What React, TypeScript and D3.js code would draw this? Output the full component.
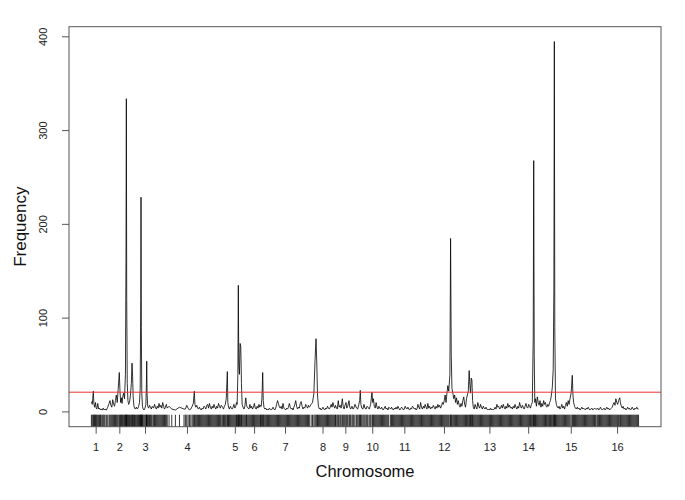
import React from 'react';
import * as d3 from 'd3';

// chromosome names and sizes (Mb), in genome order
const chromLabels = ['1', '2', '3', '4', '5', '6', '7', '8', '9', '10', '11', '12', '13', '14', '15', '16'];
const chromLengthsMb = [0.230, 0.813, 0.317, 1.532, 0.577, 0.270, 1.091, 0.563, 0.440, 0.746, 0.667, 1.078, 0.924, 0.784, 1.091, 0.948];

const yTicks = [0, 100, 200, 300, 400];
const threshold = 21;

// [cumulative position (Mb), frequency] at each marker
const markers: [number, number][] = [
    // chr 1
    [0.01, 11], [0.03, 8], [0.053, 22], [0.065, 9], [0.08, 5], [0.10, 10], [0.115, 4], [0.13, 3], [0.15, 9], [0.17, 3], [0.19, 4], [0.21, 2], [0.225, 3],
    // chr 2
    [0.25, 2], [0.27, 4], [0.29, 2], [0.31, 3], [0.34, 2], [0.37, 5], [0.40, 9], [0.42, 12], [0.44, 7], [0.46, 5], [0.48, 13], [0.50, 8], [0.52, 6],
    [0.54, 12], [0.56, 18], [0.58, 10], [0.60, 24], [0.625, 42], [0.64, 22], [0.655, 10], [0.67, 15], [0.685, 9], [0.70, 16], [0.72, 20], [0.74, 14],
    [0.76, 40], [0.772, 160], [0.780, 334], [0.788, 120], [0.80, 30], [0.815, 12], [0.83, 8], [0.85, 10], [0.87, 18], [0.89, 30], [0.905, 52],
    [0.918, 38], [0.93, 16], [0.945, 7], [0.96, 4], [0.98, 3], [1.00, 5], [1.02, 3], [1.035, 4],
    // chr 3
    [1.05, 6], [1.07, 10], [1.085, 24], [1.097, 120], [1.103, 229], [1.11, 90], [1.12, 20], [1.135, 6], [1.15, 3], [1.17, 2], [1.19, 4], [1.21, 8],
    [1.222, 30], [1.229, 54], [1.236, 20], [1.25, 6], [1.27, 4], [1.29, 7], [1.31, 5], [1.33, 3], [1.35, 6],
    // chr 4
    [1.38, 4], [1.40, 8], [1.42, 5], [1.44, 3], [1.46, 6], [1.48, 4], [1.50, 9], [1.52, 5], [1.54, 7], [1.56, 4], [1.58, 10], [1.60, 6], [1.62, 3],
    [1.64, 5], [1.66, 8], [1.68, 4], [1.72, 6], [1.78, 3], [1.86, 2], [1.95, 5], [2.05, 3], [2.08, 3], [2.11, 7], [2.14, 4], [2.17, 2], [2.20, 3],
    [2.23, 6], [2.255, 9], [2.277, 22], [2.29, 8], [2.31, 5], [2.33, 7], [2.35, 4], [2.37, 3], [2.39, 5], [2.41, 3], [2.43, 2], [2.45, 4], [2.47, 3],
    [2.49, 6], [2.51, 5], [2.53, 3], [2.55, 7], [2.57, 8], [2.59, 4], [2.61, 9], [2.63, 5], [2.65, 3], [2.67, 6], [2.69, 4], [2.71, 8], [2.73, 5],
    [2.75, 3], [2.77, 6], [2.79, 4], [2.81, 9], [2.83, 6], [2.85, 4], [2.87, 7],
    // chr 5
    [2.90, 5], [2.92, 3], [2.94, 6], [2.96, 8], [2.98, 14], [3.004, 43], [3.015, 10], [3.03, 5], [3.05, 3], [3.07, 6], [3.09, 4], [3.11, 3], [3.13, 5],
    [3.15, 8], [3.17, 4], [3.19, 6], [3.205, 10], [3.22, 8], [3.236, 40], [3.246, 135], [3.256, 50], [3.27, 40], [3.285, 73], [3.30, 70], [3.315, 30],
    [3.33, 8], [3.35, 5], [3.37, 3], [3.39, 6], [3.41, 15], [3.425, 8], [3.44, 5], [3.46, 4],
    // chr 6
    [3.48, 3], [3.50, 8], [3.52, 4], [3.54, 6], [3.56, 3], [3.58, 5], [3.60, 9], [3.62, 4], [3.64, 3], [3.66, 6], [3.68, 4], [3.70, 8], [3.72, 5], [3.735, 7],
    // chr 7
    [3.75, 6], [3.765, 14], [3.783, 42], [3.795, 12], [3.81, 5], [3.83, 3], [3.85, 4], [3.87, 2], [3.89, 3], [3.91, 2], [3.93, 4], [3.95, 3], [3.97, 2],
    [3.99, 3], [4.01, 5], [4.03, 3], [4.05, 2], [4.07, 4], [4.09, 8], [4.11, 12], [4.13, 9], [4.15, 5], [4.17, 4], [4.19, 6], [4.21, 3], [4.23, 9],
    [4.25, 4], [4.27, 3], [4.29, 2], [4.31, 4], [4.33, 3], [4.35, 5], [4.37, 9], [4.39, 5], [4.41, 3], [4.43, 4], [4.45, 2], [4.47, 5], [4.49, 8],
    [4.51, 12], [4.53, 6], [4.55, 3], [4.57, 5], [4.59, 4], [4.61, 9], [4.63, 11], [4.65, 6], [4.67, 3], [4.69, 5], [4.71, 4], [4.73, 8], [4.75, 6],
    [4.77, 4], [4.79, 7], [4.81, 5],
    // chr 8
    [4.85, 8], [4.88, 10], [4.91, 20], [4.935, 55], [4.957, 78], [4.975, 50], [4.99, 18], [5.01, 6], [5.03, 3], [5.05, 4], [5.07, 2], [5.09, 3],
    [5.11, 5], [5.13, 3], [5.15, 2], [5.17, 4], [5.19, 3], [5.21, 6], [5.23, 4], [5.25, 3], [5.27, 5], [5.29, 8], [5.31, 5], [5.33, 10], [5.35, 6],
    [5.37, 4], [5.385, 7],
    // chr 9
    [5.40, 5], [5.425, 3], [5.447, 12], [5.465, 5], [5.49, 7], [5.51, 4], [5.536, 14], [5.555, 6], [5.575, 3], [5.595, 7], [5.617, 10], [5.635, 4],
    [5.655, 6], [5.683, 12], [5.70, 5], [5.72, 3], [5.749, 6], [5.77, 3], [5.79, 4], [5.815, 8],
    // chr 10
    [5.85, 4], [5.875, 3], [5.90, 8], [5.918, 12], [5.932, 23], [5.945, 8], [5.965, 4], [5.99, 3], [6.013, 8], [6.035, 4], [6.06, 3], [6.08, 6],
    [6.10, 5], [6.13, 3], [6.16, 8], [6.189, 21], [6.205, 10], [6.22, 14], [6.24, 6], [6.26, 4], [6.28, 10], [6.30, 5], [6.32, 3], [6.34, 6],
    [6.36, 4], [6.38, 3], [6.40, 5], [6.42, 3], [6.44, 2], [6.46, 4], [6.48, 6], [6.50, 3], [6.52, 4], [6.54, 2], [6.56, 5],
    // chr 11
    [6.60, 3], [6.62, 5], [6.64, 3], [6.66, 2], [6.68, 4], [6.70, 3], [6.72, 5], [6.74, 3], [6.76, 6], [6.78, 4], [6.80, 2], [6.82, 3], [6.84, 5],
    [6.86, 4], [6.88, 2], [6.90, 3], [6.92, 6], [6.94, 4], [6.96, 3], [6.98, 5], [7.00, 3], [7.02, 2], [7.04, 4], [7.06, 3], [7.08, 6], [7.10, 5],
    [7.12, 3], [7.14, 4], [7.16, 2], [7.18, 3], [7.20, 8], [7.22, 5], [7.24, 3],
    // chr 12
    [7.26, 10], [7.28, 5], [7.30, 3], [7.32, 6], [7.34, 4], [7.36, 8], [7.38, 5], [7.40, 3], [7.42, 9], [7.44, 4], [7.46, 6], [7.48, 3], [7.50, 5],
    [7.52, 4], [7.54, 7], [7.56, 5], [7.58, 3], [7.60, 6], [7.62, 4], [7.64, 8], [7.66, 5], [7.68, 7], [7.70, 4], [7.72, 6], [7.74, 10], [7.76, 8],
    [7.78, 12], [7.80, 18], [7.82, 10], [7.84, 20], [7.86, 28], [7.88, 22], [7.905, 40], [7.92, 185], [7.935, 60], [7.95, 25], [7.97, 20], [7.99, 14],
    [8.01, 18], [8.03, 10], [8.05, 15], [8.07, 8], [8.09, 12], [8.11, 7], [8.13, 5], [8.15, 9], [8.17, 6], [8.19, 12], [8.21, 16], [8.23, 8],
    [8.25, 5], [8.27, 14], [8.29, 18], [8.31, 22],
    // chr 13
    [8.33, 44], [8.345, 28], [8.36, 20], [8.375, 36], [8.39, 34], [8.405, 12], [8.42, 5], [8.44, 3], [8.46, 8], [8.48, 5], [8.50, 3], [8.52, 10],
    [8.54, 6], [8.56, 4], [8.58, 8], [8.60, 5], [8.62, 3], [8.64, 6], [8.66, 4], [8.68, 3], [8.70, 5], [8.72, 3], [8.74, 2], [8.76, 3], [8.78, 2],
    [8.80, 4], [8.82, 2], [8.84, 3], [8.86, 2], [8.88, 3], [8.90, 5], [8.92, 3], [8.94, 8], [8.96, 5], [8.98, 6], [9.00, 3], [9.02, 4], [9.04, 7],
    [9.06, 4], [9.08, 8], [9.10, 5], [9.12, 3], [9.14, 6], [9.16, 4], [9.18, 9], [9.20, 5], [9.22, 7], [9.24, 4],
    // chr 14
    [9.26, 5], [9.28, 3], [9.30, 6], [9.32, 4], [9.34, 8], [9.36, 5], [9.38, 3], [9.40, 6], [9.42, 4], [9.44, 10], [9.46, 6], [9.48, 4], [9.50, 7],
    [9.52, 5], [9.54, 3], [9.56, 6], [9.58, 9], [9.60, 5], [9.62, 4], [9.64, 8], [9.66, 6], [9.68, 4], [9.70, 8], [9.72, 10], [9.74, 80],
    [9.751, 268], [9.762, 60], [9.775, 10], [9.79, 14], [9.81, 6], [9.83, 16], [9.85, 10], [9.87, 7], [9.89, 12], [9.91, 5], [9.93, 9], [9.95, 6],
    [9.97, 12], [9.99, 8], [10.01, 10], [10.025, 6],
    // chr 15
    [10.04, 5], [10.06, 8], [10.08, 6], [10.10, 10], [10.12, 12], [10.14, 18], [10.16, 26], [10.18, 45], [10.195, 130], [10.205, 395], [10.215, 90],
    [10.23, 14], [10.25, 8], [10.27, 5], [10.29, 4], [10.31, 6], [10.33, 3], [10.35, 5], [10.37, 8], [10.39, 4], [10.41, 6], [10.43, 3], [10.45, 7],
    [10.47, 10], [10.49, 6], [10.51, 12], [10.53, 8], [10.55, 14], [10.575, 20], [10.60, 39], [10.615, 18], [10.63, 10], [10.65, 6], [10.67, 4],
    [10.69, 3], [10.71, 5], [10.73, 3], [10.75, 4], [10.77, 2], [10.79, 3], [10.81, 5], [10.83, 3], [10.85, 4], [10.87, 3], [10.89, 2], [10.91, 4],
    [10.93, 3], [10.95, 5], [10.97, 3], [10.99, 2], [11.01, 3], [11.03, 4], [11.05, 2], [11.07, 3], [11.09, 4], [11.11, 3],
    // chr 16
    [11.14, 3], [11.16, 4], [11.18, 2], [11.20, 3], [11.22, 5], [11.24, 3], [11.26, 2], [11.28, 3], [11.30, 4], [11.32, 2], [11.34, 3], [11.36, 5],
    [11.38, 3], [11.40, 4], [11.42, 2], [11.44, 3], [11.46, 4], [11.48, 5], [11.50, 8], [11.52, 10], [11.54, 7], [11.56, 14], [11.58, 10],
    [11.60, 8], [11.62, 12], [11.645, 15], [11.66, 10], [11.68, 6], [11.70, 4], [11.72, 6], [11.74, 3], [11.76, 4], [11.78, 2], [11.80, 3],
    [11.82, 5], [11.84, 3], [11.86, 4], [11.88, 2], [11.90, 3], [11.92, 5], [11.94, 3], [11.96, 2], [11.98, 4], [12.00, 3], [12.02, 5], [12.04, 3],
    [12.06, 3],
];

const width = 685;
const height = 500;
const plot = { left: 69, right: 661, top: 26.7, bottom: 426.7 };
const font = "'Liberation Sans', Arial, Helvetica, sans-serif";

const App: React.FC = () => {
    const genomeSize = d3.sum(chromLengthsMb);
    const starts = [0, ...Array.from(d3.cumsum(chromLengthsMb)).slice(0, -1)];
    const mids = starts.map((s, i) => s + chromLengthsMb[i] / 2);

    // R style 4% padding on both axes
    const x = d3.scaleLinear()
        .domain([-0.04 * genomeSize, genomeSize * 1.04])
        .range([plot.left, plot.right]);

    const yMax = d3.max(markers, d => d[1]) as number;
    const y = d3.scaleLinear()
        .domain([-0.04 * yMax, yMax * 1.04])
        .range([plot.bottom, plot.top]);

    const line = d3.line<[number, number]>()
        .x(d => x(d[0]))
        .y(d => y(d[1]));

    const rugLen = 0.03 * (plot.bottom - plot.top);

    return (
        <svg width={width} height={height} style={{ position: 'absolute', left: 0, top: 0, background: '#fff' }}
            fontFamily={font}>
            {/* rug */}
            <g stroke="#000" strokeWidth={0.8}>
                {markers.map((d, i) => (
                    <line key={i} x1={x(d[0])} x2={x(d[0])} y1={plot.bottom} y2={plot.bottom - rugLen} />
                ))}
            </g>

            <path d={line(markers) ?? ''} fill="none" stroke="#000" strokeWidth={0.8} strokeLinejoin="round" />

            <line x1={plot.left} x2={plot.right} y1={y(threshold)} y2={y(threshold)} stroke="#e8332f" strokeWidth={1} />

            <rect x={plot.left} y={plot.top} width={plot.right - plot.left} height={plot.bottom - plot.top}
                fill="none" stroke="#555" strokeWidth={1} />

            {/* y axis */}
            <g>
                {yTicks.map(t => (
                    <g key={t}>
                        <line x1={plot.left - 7} x2={plot.left} y1={y(t)} y2={y(t)} stroke="#555" />
                        <text transform={`translate(47,${y(t)}) rotate(-90)`} textAnchor="middle" fontSize={11} fill="#222">{t}</text>
                    </g>
                ))}
                <text transform={`translate(26,${(plot.top + plot.bottom) / 2}) rotate(-90)`} textAnchor="middle"
                    fontSize={17} fill="#111">Frequency</text>
            </g>

            {/* x axis */}
            <g>
                {mids.map((m, i) => (
                    <g key={chromLabels[i]}>
                        <line x1={x(m)} x2={x(m)} y1={plot.bottom} y2={plot.bottom + 7} stroke="#555" />
                        <text x={x(m)} y={451} textAnchor="middle" fontSize={11} fill="#222">{chromLabels[i]}</text>
                    </g>
                ))}
                <text x={(plot.left + plot.right) / 2} y={477} textAnchor="middle" fontSize={16.5} fill="#111">Chromosome</text>
            </g>
        </svg>
    );
};

export default App;
